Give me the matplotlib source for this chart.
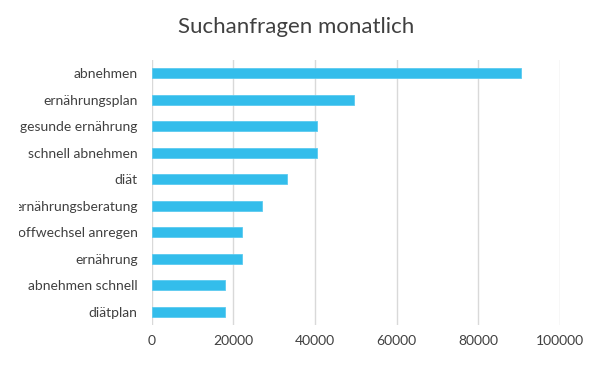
import matplotlib
matplotlib.use("Agg")
import matplotlib.pyplot as plt
from matplotlib.transforms import Bbox

plt.rcParams["font.family"] = ["Lato", "DejaVu Sans"]

categories = [
    "abnehmen",
    "ernährungsplan",
    "gesunde ernährung",
    "schnell abnehmen",
    "diät",
    "ernährungsberatung",
    "stoffwechsel anregen",
    "ernährung",
    "abnehmen schnell",
    "diätplan",
]
volumes = [90500, 49500, 40500, 40500, 33100, 27100, 22200, 22200, 18100, 18100]
x_ticks = [0, 20000, 40000, 60000, 80000, 100000]

text_color = "#404040"

fig = plt.figure(figsize=(6.0, 3.66), dpi=100)
ax = fig.add_axes([0.2525, 0.112, 0.6808, 0.724])

ypos = list(range(len(categories)))[::-1]
ax.barh(ypos, volumes, height=0.38, color="#33BDEB", edgecolor="#5CCBF0",
        linewidth=0.6, zorder=3)

ax.set_xlim(0, 100000)
ax.set_ylim(-0.5, len(categories) - 0.5)
ax.set_xticks(x_ticks)
ax.set_xticklabels([str(t) for t in x_ticks])
ax.set_yticks(ypos)
ax.set_yticklabels(categories)
ax.tick_params(axis="both", length=0, labelsize=10, colors=text_color)
ax.tick_params(axis="x", pad=7)
ax.tick_params(axis="y", pad=10)

# long category names are cut off at the left like in the original
clip = Bbox([[19, 0], [600, 366]])
for lbl in ax.get_yticklabels():
    lbl.set_clip_box(clip)
    lbl.set_clip_on(True)

ax.grid(axis="x", color="#D9D9D9", linewidth=1.0, zorder=0)
for side in ["top", "right", "bottom", "left"]:
    ax.spines[side].set_visible(False)

fig.text(0.494, 0.926, "Suchanfragen monatlich", ha="center", va="center",
         fontsize=16, color=text_color)

fig.savefig("out.png", dpi=100, facecolor="white")
